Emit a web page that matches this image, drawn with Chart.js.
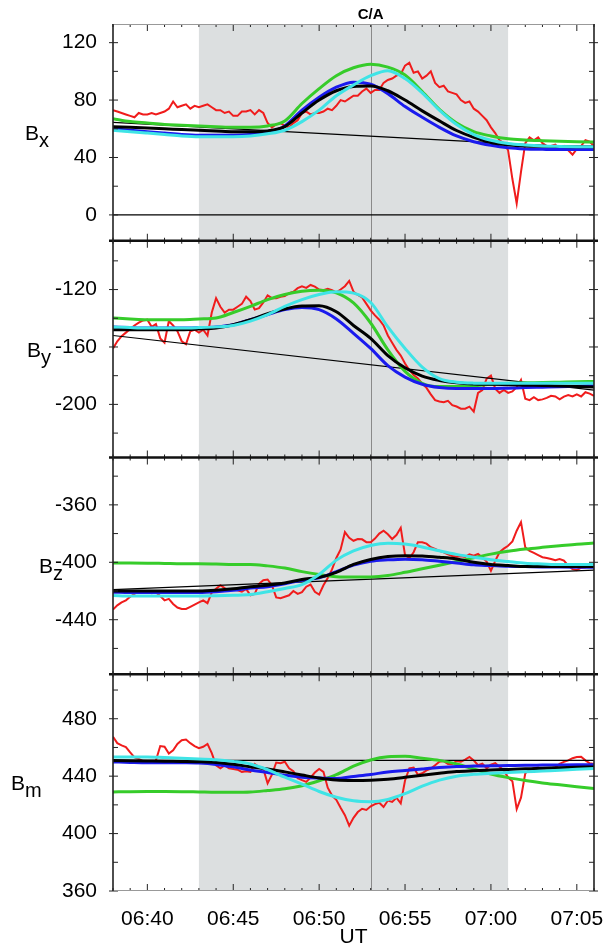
<!DOCTYPE html>
<html>
<head>
<meta charset="utf-8">
<title>Magnetic field components near C/A</title>
<script src="https://cdn.jsdelivr.net/npm/chart.js@4.4.1/dist/chart.umd.min.js"></script>
<style>
  body { margin: 0; background: #fff; }
  canvas { display: block; }
</style>
</head>
<body>
<canvas id="chartField" width="616" height="950"></canvas>
<script>
// times are minutes after 06:00 UT
const modelTimes = [38, 39, 40, 41, 42, 43, 44, 45, 46, 47, 48, 49, 50, 51, 52,
  53, 54, 55, 56, 57, 58, 59, 60, 61, 62, 63, 64, 65, 66];
const trendTimes = [38, 66];
const redStart = 38;
const redStep = 0.25;

const timeRange = [38, 66];
const timeLabels = [40, 45, 50, 55, 60, 65];
const shadeStart = 43;
const shadeEnd = 61;
const closestApproach = 53;

// ---- Bx ----
const bxRange = [-18, 133];
const bxTicks = [0, 20, 40, 60, 80, 100, 120];
const bxRed = [
  73, 72, 71, 70, 69, 68, 71, 70, 70, 71, 70, 71, 72, 74, 79, 75,
  76, 77, 74, 76, 75, 76, 77, 75, 73, 73, 71, 72, 69, 69, 72, 72,
  73, 70, 73, 71, 64, 61, 63, 64, 62, 61, 64, 66, 71, 72, 70, 71,
  71, 72, 74, 73, 76, 80, 79, 81, 83, 83, 86, 88, 85, 87, 87, 92,
  94, 95, 97, 98, 104, 106, 99, 100, 95, 97, 100, 92, 89, 90, 86, 85,
  84, 80, 78, 79, 74, 72, 69, 66, 61, 57, 52, 50, 45, 25, 8, 30,
  50, 54, 52, 54, 50, 48, 48, 49, 46, 48, 45, 42, 46, 48, 52, 51,
  48];
const bxGreen = [67, 65, 64, 63, 62.5, 62, 61.5, 61, 61, 62, 65.5, 77.6, 88, 97, 102.5,
  105, 103, 97.5, 86, 73.5, 64, 58, 55, 53, 52.2, 51.7, 51.3, 51, 50.8];
const bxBlue = [60, 59, 58, 57, 56, 55.5, 55.5, 55.5, 56, 57.5, 62, 73, 82, 89, 92.5,
  91, 84.5, 75.5, 68, 61, 55, 51, 48.5, 46.8, 46, 45.7, 45.5, 45.5, 45.5];
const bxBlack = [61.5, 61, 60.5, 60, 59.5, 59, 58.5, 58, 58, 58.5, 61.5, 71, 80, 86.5, 89.5,
  89.8, 86.5, 80, 72.5, 65.5, 58.8, 54, 50.5, 48.8, 48, 47.8, 47.6, 47.5, 47.4];
const bxCyan = [59, 58, 57, 56, 55, 54.5, 54.5, 54.5, 55, 56.5, 59, 65, 73, 83, 90.5,
  97, 100.5, 95, 85, 73, 63, 56, 52, 49.8, 48.7, 48, 47.7, 47.5, 47.4];
const bxTrend = [64.5, 46.5];

// ---- By ----
const byRange = [-237, -86];
const byTicks = [-220, -200, -180, -160, -140, -120, -100];
const byRed = [
  -161, -156, -152.5, -150, -147.5, -145, -143, -141.5, -141, -146, -144, -154, -157, -142, -145, -149,
  -156, -158, -149, -148, -150, -148, -152, -136, -126, -132, -136, -134, -134, -132, -130, -125,
  -128, -134, -133, -129, -124, -126, -126, -125, -124.5, -122.5, -121.5, -119, -117.7, -118.8, -116.8, -118,
  -120, -120.5, -119.5, -120.5, -122, -120, -117.7, -114, -121.5, -123.8, -125.5, -130, -134.5, -138, -141, -145,
  -152, -157, -162, -166, -171.5, -176, -179.5, -182, -185.5, -188.5, -193, -197, -198, -198.5, -197.5, -200.5,
  -201.5, -203, -203, -201.6, -205, -192, -190, -182, -180, -189, -192, -190, -192, -191, -188, -183,
  -196, -197, -195, -197, -196.5, -195.5, -194, -194.5, -196.5, -194.6, -193.5, -194.5, -193, -194.5, -191.5, -192.5,
  -194];
const byGreen = [-139.8, -140.5, -141, -141, -141, -140.5, -139.8, -136, -131.7, -127, -123.5, -121.2, -120.5, -122.3, -129.3,
  -143.3, -162, -177, -185.3, -187.6, -187.6, -187, -186, -185.3, -185, -184.8, -184.5, -184.2, -184];
const byBlue = [-146, -146.5, -146.8, -146.8, -146.8, -146.5, -146, -144.5, -141, -137.5, -134, -132.5, -134, -140.5, -150.5,
  -161, -173, -181, -186, -188.3, -189, -189, -189, -188.7, -188.3, -188, -187.7, -187.3, -187];
const byBlack = [-148, -148, -148, -148, -148, -147.5, -146.8, -144.5, -141, -136.8, -133.5, -131.5, -131.3, -135.5, -145,
  -154, -166, -174.5, -180.3, -183.3, -185, -185.8, -186, -186.3, -186.6, -186.9, -187.2, -187.5, -187.8];
const byCyan = [-146, -146.5, -146.8, -146.8, -146.8, -146.5, -146, -145, -142, -137.5, -131.7, -127, -123.5, -121.5, -122.5,
  -129, -146, -161, -174, -182, -184.5, -185.2, -185.3, -185.3, -185.3, -185.3, -185.3, -185.3, -185.3];
const byTrend = [-152, -190];

// ---- Bz ----
const bzRange = [-478, -327];
const bzTicks = [-460, -440, -420, -400, -380, -360, -340];
const bzRed = [
  -433, -430, -428, -426.5, -424, -422, -420, -420.5, -420.5, -421.5, -421, -423.5, -426.5, -425.5, -429, -431.5,
  -432.5, -432.5, -431, -429.5, -428, -426.5, -428.5, -421, -418.5, -416, -418, -419.7, -419, -419.5, -420.5, -418.5,
  -423, -422, -415, -412.5, -412, -416, -424.5, -425, -424, -423, -420, -422, -420.8, -417, -415.5, -420.5,
  -422.5, -416, -411, -405, -397, -391, -379, -383, -385, -383.8, -384, -386, -386, -383.5, -380, -378,
  -380.5, -383.8, -381, -376, -395, -397, -393, -386, -386, -387, -389.5, -390.7, -392, -393, -394.5, -395.6,
  -396.2, -395.8, -396.3, -394.5, -395.4, -394.2, -396.7, -399.5, -406, -399, -393, -390.5, -388.5, -385.5, -378, -372,
  -389.6, -392, -393.5, -395, -396.5, -397, -397.7, -398.5, -397.7, -398.8, -402.4, -404.8, -405.5, -403.8, -403.5, -401.5,
  -401];
const bzGreen = [-400.5, -400.5, -400.6, -400.8, -401, -401, -401.2, -401.5, -401.5, -402.5, -404, -406.5, -408.5, -410, -410.3,
  -410.2, -409.2, -407, -404.5, -402, -399.5, -396.8, -394.3, -392.3, -390.8, -389.6, -388.5, -387.4, -386.6];
const bzBlue = [-420.8, -421, -421, -421, -421, -421, -420.5, -419.5, -418, -417, -415, -412.5, -410.8, -406.5, -402,
  -399.3, -398.3, -397.8, -398.2, -399.3, -400.5, -401.8, -402.3, -402.8, -403, -403.2, -403.3, -403.4, -403.5];
const bzBlack = [-420, -420, -420, -420, -420, -420, -419.5, -418.5, -417, -416, -414.5, -412, -410.5, -407, -401.5,
  -398, -396, -395.4, -395.6, -396.5, -397.7, -400, -401.6, -402.3, -403, -403, -403, -403, -403];
const bzCyan = [-423.1, -423.5, -423.5, -423.5, -423.5, -423.5, -423.3, -423, -422.5, -420.5, -418.2, -415.5, -408.5, -398.5, -392,
  -388.3, -386.7, -387.3, -389.3, -392, -394.5, -396.5, -398.2, -399.5, -400.7, -401.2, -401.6, -401.6, -401.6];
const bzTrend = [-419, -405.5];

// ---- Bm ----
const bmRange = [360, 511];
const bmTicks = [360, 380, 400, 420, 440, 460, 480, 500];
const bmRed = [
  467.5, 463, 461.5, 460.3, 456.5, 453, 452, 450.5, 450, 449.5, 451, 461, 460.5, 455.7, 458, 462.5,
  465, 465.5, 463, 461, 459.5, 460.5, 462.5, 456, 447.6, 445.5, 447.5, 445.5, 445, 444.5, 443, 443.5,
  443, 448.5, 446.4, 445, 435, 441, 449.5, 449, 450, 445.5, 443.5, 438.5, 437.2, 436, 439, 442.5,
  445, 443, 432, 426.5, 423.5, 418, 412.8, 405.5, 411, 415, 417.3, 416.5, 419, 420.5, 421.5, 418.5,
  423, 422.1, 425, 421, 437, 445.5, 446, 441, 442, 444, 445.3, 447.6, 450, 450.5, 448.5, 448.5,
  450.5, 450, 451.5, 453.4, 451, 447.6, 448.7, 445.5, 448, 449, 446.5, 444, 439, 436.5, 417, 425,
  442, 444.3, 445.5, 446, 444.7, 445.5, 445.5, 446.2, 448.5, 450, 451, 452.5, 453.4, 453.5, 451, 449,
  448.5];
const bmGreen = [429, 429.2, 429.3, 429.3, 429.2, 429, 428.8, 428.8, 429, 430, 431.2, 433.3, 436.8, 441, 447,
  451.3, 453.5, 453.8, 452.5, 451, 448.5, 445, 441.5, 439, 437, 435.3, 434, 432.7, 431.4];
const bmBlue = [449.9, 449.6, 449.4, 449.4, 449.3, 449.1, 448.2, 446.5, 444.3, 442.5, 440.6, 439.3, 438.7, 438.4, 439.8,
  441.2, 442.9, 443.9, 445, 446, 446.7, 447, 447.2, 447.4, 447.6, 447.7, 447.8, 447.9, 448];
const bmBlack = [451, 450.8, 450.6, 450.4, 450.3, 450.1, 449.6, 448.3, 446.5, 445, 443, 440.8, 438.7, 437.3, 437,
  437.2, 437.9, 439.2, 440.7, 442, 443.2, 443.8, 444.3, 444.7, 445.1, 445.5, 445.8, 446.2, 446.4];
const bmCyan = [453.4, 453.4, 453.4, 453, 452.5, 452, 451.5, 450.3, 448.5, 444.5, 439.3, 434.5, 429.3, 425.3, 422.8,
  422.2, 423.8, 427.8, 433, 437.2, 440, 441.3, 442, 442.5, 443, 443.6, 444.1, 444.8, 445.3];
const bmTrend = [451, 451];

const colors = {
  red: '#f01c1c',
  green: '#36cc2a',
  blue: '#1a1aee',
  black: '#000000',
  cyan: '#3fe4e6',
  shade: '#dcdfe0',
};
const fontFamily = '"Liberation Sans", Arial, Helvetica, sans-serif';

// top to bottom
const panels = [
  { axis: 'yBx', sub: 'x', range: bxRange, ticks: bxTicks, red: bxRed, green: bxGreen, blue: bxBlue, black: bxBlack, cyan: bxCyan, trend: bxTrend, titleX: 25 },
  { axis: 'yBy', sub: 'y', range: byRange, ticks: byTicks, red: byRed, green: byGreen, blue: byBlue, black: byBlack, cyan: byCyan, trend: byTrend, titleX: 27 },
  { axis: 'yBz', sub: 'z', range: bzRange, ticks: bzTicks, red: bzRed, green: bzGreen, blue: bzBlue, black: bzBlack, cyan: bzCyan, trend: bzTrend, titleX: 39 },
  { axis: 'yBm', sub: 'm', range: bmRange, ticks: bmTicks, red: bmRed, green: bmGreen, blue: bmBlue, black: bmBlack, cyan: bmCyan, trend: bmTrend, titleX: 11 },
];

const formatTime = (m) => {
  const h = 6 + Math.floor(m / 60);
  return String(h).padStart(2, '0') + ':' + String(m % 60).padStart(2, '0');
};

const pairUp = (times, values) => values.map((v, i) => ({ x: times[i], y: v }));
const redPoints = (values) => values.map((v, i) => ({ x: redStart + i * redStep, y: v }));

const lineSet = (data, color, width, axis, order, smooth) => ({
  data,
  borderColor: color,
  borderWidth: width,
  xAxisID: 'x',
  yAxisID: axis,
  pointRadius: 0,
  tension: 0,
  cubicInterpolationMode: smooth ? 'monotone' : 'default',
  order,
});

const datasets = [];
panels.forEach((p) => {
  datasets.push(lineSet(redPoints(p.red), colors.red, 2, p.axis, 6, false));
  datasets.push(lineSet(pairUp(trendTimes, p.trend), colors.black, 1.2, p.axis, 5, false));
  datasets.push(lineSet(pairUp(modelTimes, p.green), colors.green, 3, p.axis, 4, true));
  datasets.push(lineSet(pairUp(modelTimes, p.blue), colors.blue, 3, p.axis, 3, true));
  datasets.push(lineSet(pairUp(modelTimes, p.black), colors.black, 3, p.axis, 2, true));
  datasets.push(lineSet(pairUp(modelTimes, p.cyan), colors.cyan, 3, p.axis, 1, true));
});

const scales = {
  x: {
    type: 'linear',
    position: 'bottom',
    min: timeRange[0],
    max: timeRange[1],
    grid: { display: false },
    border: { display: false },
    afterBuildTicks: (s) => { s.ticks = timeLabels.map((v) => ({ value: v })); },
    afterFit: (s) => { s.height = 59; },
    ticks: {
      callback: (v) => formatTime(v),
      font: { family: fontFamily, size: 21 },
      color: '#000',
      padding: 8,
      maxRotation: 0,
      autoSkip: false,
    },
    title: {
      display: true,
      text: 'UT',
      font: { family: fontFamily, size: 21 },
      color: '#000',
      padding: { top: 0, bottom: 0 },
    },
  },
};

// stacked left axes are laid out last-defined on top, so add them bottom-up
panels.slice().reverse().forEach((p) => {
  scales[p.axis] = {
    type: 'linear',
    position: 'left',
    stack: 'panels',
    stackWeight: 1,
    min: p.range[0],
    max: p.range[1],
    grid: { display: false },
    border: { display: false },
    afterBuildTicks: (s) => { s.ticks = p.ticks.map((v) => ({ value: v })); },
    afterFit: (s) => { s.width = 113; },
    ticks: {
      callback: (v) => (v % 40 === 0 ? String(v) : ''),
      font: { family: fontFamily, size: 21 },
      color: '#000',
      padding: 8,
      autoSkip: false,
    },
  };
});

const panelFrame = {
  id: 'panelFrame',
  beforeDatasetsDraw: (chart) => {
    const { ctx, chartArea: a, scales: s } = chart;
    const x0 = s.x.getPixelForValue(shadeStart);
    const x1 = s.x.getPixelForValue(shadeEnd);
    ctx.save();
    ctx.fillStyle = colors.shade;
    ctx.fillRect(x0, a.top, x1 - x0, a.bottom - a.top);

    const ca = Math.round(s.x.getPixelForValue(closestApproach)) + 0.5;
    ctx.strokeStyle = '#8a8a8a';
    ctx.lineWidth = 1;
    ctx.beginPath();
    ctx.moveTo(ca, a.top);
    ctx.lineTo(ca, a.bottom);
    ctx.stroke();

    const zero = s.yBx.getPixelForValue(0);
    ctx.strokeStyle = '#000';
    ctx.lineWidth = 1.2;
    ctx.beginPath();
    ctx.moveTo(a.left, zero);
    ctx.lineTo(a.right, zero);
    ctx.stroke();
    ctx.restore();
  },
  afterDatasetsDraw: (chart) => {
    const { ctx, chartArea: a, scales: s } = chart;
    ctx.save();
    ctx.strokeStyle = '#222';
    ctx.lineWidth = 1;

    panels.forEach((p) => {
      const ys = s[p.axis];
      // minute ticks on top and bottom of each panel
      for (let m = timeRange[0]; m <= timeRange[1]; m++) {
        const px = s.x.getPixelForValue(m);
        const len = m % 5 === 0 ? 7 : 3;
        ctx.beginPath();
        ctx.moveTo(px, ys.top);
        ctx.lineTo(px, ys.top + len);
        ctx.moveTo(px, ys.bottom);
        ctx.lineTo(px, ys.bottom - len);
        ctx.stroke();
      }
      // value ticks on both sides
      p.ticks.forEach((v) => {
        const py = ys.getPixelForValue(v);
        const out = v % 40 === 0 ? 4 : 0;
        ctx.beginPath();
        ctx.moveTo(a.left - out, py);
        ctx.lineTo(a.left + 5, py);
        ctx.moveTo(a.right + out, py);
        ctx.lineTo(a.right - 5, py);
        ctx.stroke();
      });
    });

    // panel separators
    ctx.strokeStyle = '#111';
    ctx.lineWidth = 2.5;
    panels.slice(1).forEach((p) => {
      const y = s[p.axis].top;
      ctx.beginPath();
      ctx.moveTo(a.left - 4, y);
      ctx.lineTo(a.right + 4, y);
      ctx.stroke();
    });

    // outer frame
    ctx.strokeStyle = '#999';
    ctx.lineWidth = 1;
    ctx.beginPath();
    ctx.moveTo(a.left, a.top + 0.5);
    ctx.lineTo(a.right, a.top + 0.5);
    ctx.moveTo(a.left, a.bottom - 0.5);
    ctx.lineTo(a.right, a.bottom - 0.5);
    ctx.stroke();
    ctx.strokeStyle = '#222';
    ctx.lineWidth = 1.6;
    ctx.beginPath();
    ctx.moveTo(a.left, a.top);
    ctx.lineTo(a.left, a.bottom);
    ctx.moveTo(a.right, a.top);
    ctx.lineTo(a.right, a.bottom);
    ctx.stroke();

    // labels
    ctx.fillStyle = '#000';
    ctx.textAlign = 'center';
    ctx.textBaseline = 'alphabetic';
    ctx.font = 'bold 15px ' + fontFamily;
    ctx.fillText('C/A', s.x.getPixelForValue(closestApproach), 19);

    ctx.textAlign = 'left';
    panels.forEach((p) => {
      const ys = s[p.axis];
      const mid = (ys.top + ys.bottom) / 2;
      ctx.font = '21px ' + fontFamily;
      ctx.fillText('B', p.titleX, mid + 7.5);
      const w = ctx.measureText('B').width;
      ctx.font = '20px ' + fontFamily;
      ctx.fillText(p.sub, p.titleX + w, mid + 14.5);
    });
    ctx.restore();
  },
};

new Chart(document.querySelector('#chartField'), {
  type: 'line',
  data: { datasets },
  options: {
    responsive: false,
    animation: false,
    devicePixelRatio: 1,
    layout: { padding: { left: 0, right: 22, top: 24, bottom: 0 } },
    scales,
    plugins: {
      legend: { display: false },
      tooltip: { enabled: false },
    },
  },
  plugins: [panelFrame],
});
</script>
</body>
</html>
